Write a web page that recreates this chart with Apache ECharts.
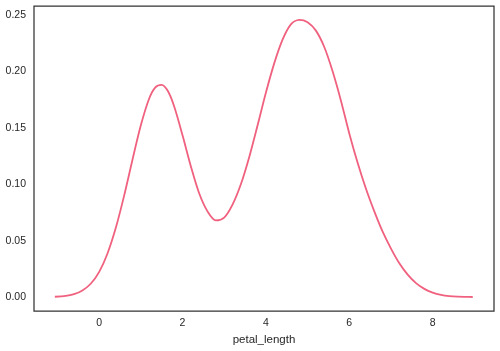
<!DOCTYPE html>
<html>
<head>
<meta charset="utf-8">
<script src="https://cdn.jsdelivr.net/npm/echarts@6/dist/echarts.min.js"></script>
<style>html,body{margin:0;padding:0;background:#fff}#c{width:500px;height:351px}</style>
</head>
<body>
<div id="c"></div>
<script>
var petalLength = [-1.06,-0.8,-0.6,-0.4,-0.2,0.0,0.2,0.4,0.6,0.8,1.0,1.2,1.35,1.5,1.65,1.8,2.0,2.2,2.4,2.6,2.8,3.0,3.2,3.4,3.6,3.8,4.0,4.2,4.4,4.6,4.8,5.0,5.2,5.4,5.6,5.8,6.0,6.2,6.4,6.6,6.8,7.0,7.2,7.4,7.6,7.8,8.0,8.2,8.4,8.6,8.8,8.96];
var density = [0.0004,0.0011,0.0027,0.0060,0.0119,0.0222,0.0385,0.0612,0.0897,0.1215,0.1520,0.1757,0.1858,0.1880,0.1825,0.1690,0.1435,0.1160,0.0920,0.0760,0.0680,0.0705,0.0820,0.1000,0.1240,0.1520,0.1810,0.2070,0.2280,0.2415,0.2455,0.2435,0.2360,0.2215,0.2000,0.1740,0.1450,0.1190,0.0960,0.0760,0.0580,0.0430,0.0300,0.0200,0.0125,0.0074,0.0041,0.0021,0.0010,0.0005,0.0003,0.0002];
var xTicks = [0,2,4,6,8];
var yTicks = [0,0.05,0.10,0.15,0.20,0.25];

var pts = petalLength.map(function(x,i){return [x,density[i]];});
var chart = echarts.init(document.getElementById('c'));
var txt = {color:'#262626', fontSize:10.5, fontFamily:'Liberation Sans, Arial, sans-serif'};
chart.setOption({
  animation:false,
  grid:{left:34,right:6,top:6,bottom:37,show:true,borderColor:'#333',borderWidth:1.25,backgroundColor:'#fff'},
  xAxis:{type:'value',min:-1.56,max:9.47,
    name:'petal_length',nameLocation:'middle',nameGap:20,
    nameTextStyle:{color:'#262626',fontSize:11.5,fontFamily:'Liberation Sans, Arial, sans-serif'},
    axisLine:{show:false},axisTick:{show:false},splitLine:{show:false},
    axisLabel:Object.assign({customValues:xTicks,margin:7,formatter:function(v){return String(v);}},txt)},
  yAxis:{type:'value',min:-0.0123,max:0.2578,
    axisLine:{show:false},axisTick:{show:false},splitLine:{show:false},
    axisLabel:Object.assign({customValues:yTicks,margin:8,formatter:function(v){return v.toFixed(2);}},txt)},
  series:[{type:'line',data:pts,smooth:0.3,showSymbol:false,
    lineStyle:{color:'#f0617f',width:1.8}}]
});
</script>
</body>
</html>
